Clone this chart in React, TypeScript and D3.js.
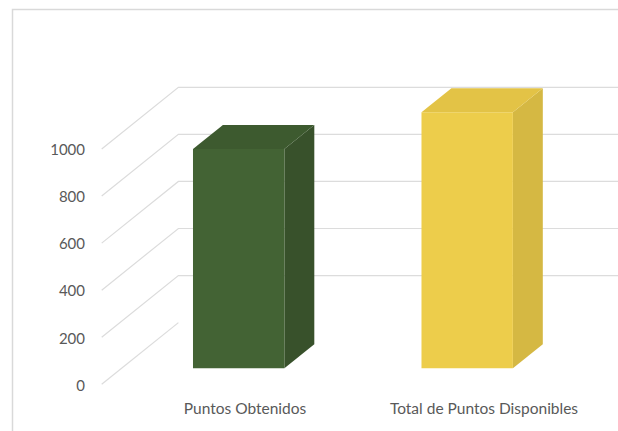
import React from "react";
import * as d3 from "d3";

const categories = ["Puntos Obtenidos", "Total de Puntos Disponibles"];
const values = [932, 1088];
const yTicks = [0, 200, 400, 600, 800, 1000];
const frontColors = ["#436334", "#EDCD4B"];
const topColors = ["#3D5A2F", "#E3C346"];
const sideColors = ["#38512B", "#D5B843"];

const W = 618;
const H = 431;

export default function App() {
  const y = d3.scaleLinear().domain([0, 1000]).range([384.3, 149]);
  const depthX = 76.7;
  const depthY = -61.7;
  const proj = (x: number, v: number, z: number): [number, number] => [x + z * depthX, y(v) + z * depthY];

  const wallLeft = 101.7;
  const barCenters = d3.scalePoint<string>().domain(categories).range([104.5, 561.5]).padding(0.5);
  const step = barCenters.step();
  const barW = step * 0.4;
  const labelX = d3.scalePoint<string>().domain(categories).range([125.5, 603.5]).padding(0.5);
  const zf = 0.26;
  const zb = 0.65;

  const poly = (pts: [number, number][]) => "M" + pts.map((p) => p.join(",")).join("L") + "Z";

  return (
    <svg width={W} height={H} style={{ position: "absolute", left: 0, top: 0 }} fontFamily="Lato, 'Open Sans', sans-serif">
      <rect x={0} y={0} width={W} height={H} fill="#ffffff" />
      <path d={`M12.5,${H}V9.5H${W + 2}`} fill="none" stroke="#D9D9D9" strokeWidth={1.5} />
      {yTicks.map((t) => {
        const a = proj(wallLeft, t, 0);
        const b = proj(wallLeft, t, 1);
        return (
          <g key={t}>
            <path d={`M${a[0]},${a[1]}L${b[0]},${b[1]}${t === 0 ? "" : `H${W + 2}`}`} fill="none" stroke="#DCDCDC" strokeWidth={1.2} />
            <text x={85} y={a[1]} dy="0.42em" textAnchor="end" fontSize={15} fill="#595959">{t}</text>
          </g>
        );
      })}
      {categories.map((c, i) => {
        const cx = barCenters(c)!;
        const x0 = cx - barW / 2;
        const x1 = cx + barW / 2;
        const v = values[i];
        const front = poly([proj(x0, 0, zf), proj(x1, 0, zf), proj(x1, v, zf), proj(x0, v, zf)]);
        const top = poly([proj(x0, v, zf), proj(x1, v, zf), proj(x1, v, zb), proj(x0, v, zb)]);
        const side = poly([proj(x1, 0, zf), proj(x1, 0, zb), proj(x1, v, zb), proj(x1, v, zf)]);
        return (
          <g key={c}>
            <path d={side} fill={sideColors[i]} />
            <path d={top} fill={topColors[i]} />
            <path d={front} fill={frontColors[i]} />
          </g>
        );
      })}
      {categories.map((c) => (
        <text key={c} x={labelX(c)!} y={414} textAnchor="middle" fontSize={15.5} fill="#595959">{c}</text>
      ))}
    </svg>
  );
}
